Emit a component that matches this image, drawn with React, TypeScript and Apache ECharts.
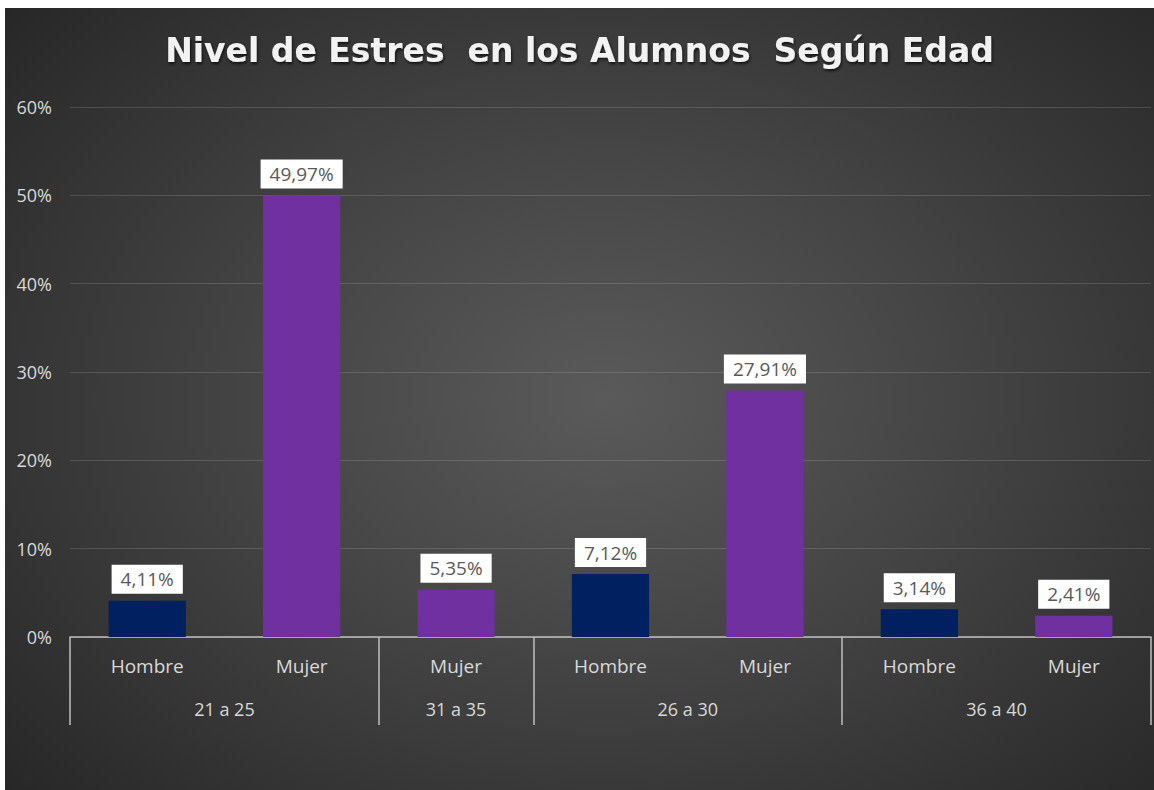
import React, { useEffect, useRef } from "react";
import * as echarts from "echarts";

const titleText = "Nivel de Estres  en los Alumnos  Según Edad";
const subLabels = ["Hombre", "Mujer", "Mujer", "Hombre", "Mujer", "Hombre", "Mujer"];
const values = [4.11, 49.97, 5.35, 7.12, 27.91, 3.14, 2.41];
const groupNames = ["21 a 25", "31 a 35", "26 a 30", "36 a 40"];
const groupSizes = [2, 1, 2, 2];
const yTicks = [0, 10, 20, 30, 40, 50, 60];
const sexColors: Record<string, string> = { Hombre: "#002060", Mujer: "#7030A0" };

export default function App() {
  const ref = useRef<HTMLDivElement>(null);
  useEffect(() => {
    if (!ref.current) return;
    const chart = echarts.init(ref.current, undefined, { renderer: "svg" });

    const bounds: number[] = [0];
    const centers: number[] = [];
    let acc = 0;
    groupSizes.forEach((s) => {
      centers.push(acc + s / 2);
      acc += s;
      bounds.push(acc);
    });
    const total = acc;

    chart.setOption({
      animation: false,
      backgroundColor: "transparent",
      title: {
        text: titleText,
        left: "center",
        top: 21,
        textStyle: {
          color: "#f2f2f2",
          fontFamily: "DejaVu Sans",
          fontWeight: "bold",
          fontSize: 33,
          textShadowColor: "rgba(0,0,0,0.7)",
          textShadowBlur: 3,
          textShadowOffsetX: 1,
          textShadowOffsetY: 2,
        },
      },
      grid: { left: 65, right: 3, top: 99, bottom: 153, containLabel: false },
      xAxis: [
        {
          type: "category",
          data: subLabels,
          axisLine: { show: true, lineStyle: { color: "#bfbfbf", width: 1.5 } },
          axisTick: { show: false },
          axisLabel: {
            color: "#d9d9d9",
            fontFamily: "Open Sans",
            fontSize: 19,
            margin: 19,
          },
        },
        {
          type: "value",
          position: "bottom",
          min: 0,
          max: total,
          axisLine: { show: false },
          splitLine: { show: false },
          axisTick: {
            show: true,
            customValues: bounds,
            length: 88,
            inside: false,
            lineStyle: { color: "#bfbfbf", width: 1.5 },
          },
          axisLabel: {
            show: true,
            customValues: centers,
            margin: 63,
            color: "#d9d9d9",
            fontFamily: "Open Sans",
            fontSize: 18,
            formatter: (v: number) => {
              const i = centers.indexOf(v);
              return i >= 0 ? groupNames[i] : "";
            },
          },
        },
      ],
      yAxis: {
        type: "value",
        min: 0,
        max: yTicks[yTicks.length - 1],
        interval: 10,
        axisLine: { show: false },
        axisTick: { show: false },
        axisLabel: {
          color: "#d9d9d9",
          fontFamily: "Open Sans",
          fontSize: 18,
          margin: 18,
          formatter: "{value}%",
        },
        splitLine: { lineStyle: { color: "rgba(255,255,255,0.14)", width: 1 } },
      },
      series: [
        {
          type: "bar",
          xAxisIndex: 0,
          yAxisIndex: 0,
          barWidth: "50%",
          data: values.map((v, i) => ({
            value: v,
            itemStyle: { color: sexColors[subLabels[i]] },
          })),
          label: {
            show: true,
            position: "top",
            distance: 7,
            backgroundColor: "#ffffff",
            padding: [5, 9],
            color: "#595959",
            fontFamily: "Open Sans",
            fontSize: 19,
            formatter: (p: any) => p.value.toFixed(2).replace(".", ",") + "%",
          },
        },
      ],
    });
    return () => chart.dispose();
  }, []);

  return (
    <div
      style={{
        position: "absolute",
        left: 5,
        top: 8,
        width: 1149,
        height: 782,
        background:
          "radial-gradient(ellipse 70% 75% at 52% 50%, #5a5a5a 0%, #444 45%, #272727 100%)",
      }}
    >
      <div ref={ref} style={{ width: 1149, height: 782 }} />
    </div>
  );
}
